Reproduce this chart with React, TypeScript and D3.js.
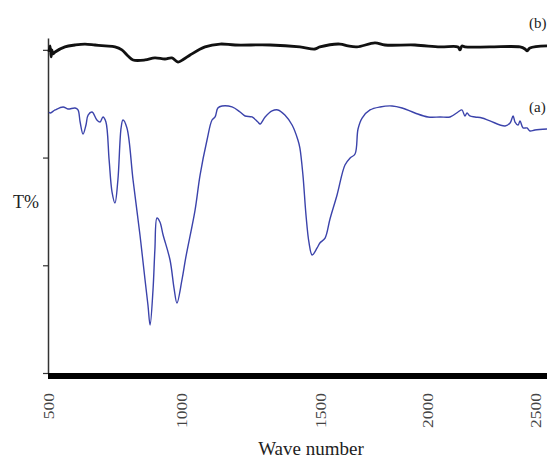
import React, { useEffect, useRef } from 'react'
import * as d3 from 'd3'

// wave number ticks, positioned on a piecewise axis as in the source figure
const xTicks = [500, 1000, 1500, 2000, 2500]
const yTicks = [0, 10, 20, 30]

// spectrum (a), blue
const waveA = [500, 504, 523, 553, 571, 598, 609, 617, 628, 639, 647, 662, 680, 692, 703, 714, 726, 737, 748, 759, 771, 778, 793, 816, 842, 861, 872, 880, 891, 898, 906, 917, 929, 955, 970, 981, 1000, 1014, 1047, 1065, 1090, 1108, 1119, 1129, 1144, 1180, 1209, 1227, 1252, 1273, 1281, 1299, 1324, 1345, 1370, 1396, 1417, 1424, 1435, 1446, 1457, 1468, 1486, 1496, 1519, 1542, 1575, 1612, 1636, 1659, 1673, 1692, 1729, 1776, 1832, 1879, 1939, 2000, 2056, 2102, 2139, 2157, 2171, 2181, 2194, 2218, 2250, 2287, 2357, 2380, 2394, 2403, 2417, 2426, 2440, 2458, 2472, 2495, 2551]
const transA = [24.23, 24.14, 24.42, 24.70, 24.51, 24.60, 24.42, 23.30, 22.19, 23.02, 23.95, 24.23, 23.49, 23.30, 23.77, 23.30, 19.78, 16.80, 15.78, 17.92, 22.75, 23.49, 22.75, 17.92, 12.81, 8.66, 6.31, 4.46, 7.71, 11.42, 14.39, 14.02, 12.81, 10.49, 7.89, 6.50, 8.66, 10.77, 15.13, 18.38, 21.63, 23.49, 23.77, 24.60, 24.79, 24.70, 24.23, 23.86, 23.77, 23.30, 23.12, 23.77, 24.33, 24.42, 23.95, 23.02, 21.63, 20.89, 18.38, 14.67, 12.07, 10.96, 11.61, 12.07, 12.53, 14.30, 16.53, 19.31, 19.96, 20.33, 22.65, 23.67, 24.42, 24.70, 24.79, 24.60, 24.14, 23.77, 23.77, 23.77, 24.23, 24.42, 23.86, 24.14, 23.86, 23.77, 23.67, 23.40, 22.93, 23.21, 23.86, 23.30, 23.02, 23.40, 22.75, 22.75, 22.47, 22.56, 22.65]

// spectrum (b), black
const waveB = [500, 504, 508, 511, 515, 523, 560, 598, 635, 673, 711, 748, 774, 797, 816, 861, 898, 936, 962, 985, 1007, 1029, 1083, 1137, 1191, 1317, 1424, 1478, 1496, 1589, 1626, 1668, 1752, 1799, 1939, 2056, 2139, 2148, 2157, 2171, 2287, 2426, 2449, 2458, 2472, 2551]
const transB = [29.80, 30.36, 29.34, 29.99, 29.62, 29.80, 30.27, 30.45, 30.54, 30.45, 30.36, 30.27, 29.99, 29.43, 29.06, 29.06, 29.25, 29.15, 29.25, 28.87, 29.15, 29.52, 30.27, 30.54, 30.45, 30.45, 30.27, 30.08, 30.27, 30.54, 30.36, 30.27, 30.64, 30.45, 30.45, 30.27, 30.27, 29.99, 30.36, 30.27, 30.27, 30.27, 30.08, 29.90, 30.17, 30.36]

const App = () => {
    const ref = useRef<SVGSVGElement>(null)

    useEffect(() => {
        drawChart()
    }, [])

    const drawChart = () => {
        const width = 547
        const height = 459
        const svg = d3.select(ref.current)
        svg.selectAll('*').remove()

        const x = d3.scaleLinear()
            .domain(xTicks)
            .range([49, 182, 321, 428, 536])
        const y = d3.scaleLinear()
            .domain([0, 31.1])
            .range([373, 38])

        svg.append('rect')
            .attr('width', width)
            .attr('height', height)
            .attr('fill', '#fff')

        // left axis
        const yAxis = d3.axisLeft(y)
            .tickValues(yTicks)
            .tickSize(5)
            .tickSizeOuter(0)
            .tickFormat(() => '')
        const gy = svg.append('g')
            .attr('transform', 'translate(48,0)')
            .call(yAxis)
        gy.select('.domain').attr('stroke', '#333').attr('stroke-width', 1.5)
        gy.selectAll('.tick line').attr('stroke', '#333').attr('stroke-width', 1.2)

        // thick bottom axis
        svg.append('line')
            .attr('x1', 48)
            .attr('x2', width)
            .attr('y1', 376)
            .attr('y2', 376)
            .attr('stroke', '#000')
            .attr('stroke-width', 6)

        svg.selectAll('.xlab')
            .data(xTicks)
            .enter()
            .append('text')
            .attr('class', 'xlab')
            .attr('transform', d => `translate(${x(d)},393) rotate(-90) scale(1.25,1)`)
            .attr('dy', '0.35em')
            .attr('text-anchor', 'end')
            .attr('font-family', 'Liberation Serif, serif')
            .attr('font-size', 14)
            .attr('fill', '#444')
            .text(d => d)

        const line = d3.line<[number, number]>()
            .x(d => x(d[0]))
            .y(d => y(d[1]))
            .curve(d3.curveCatmullRom.alpha(0.5))

        svg.append('path')
            .attr('d', line(waveB.map((w, i) => [w, transB[i]])))
            .attr('fill', 'none')
            .attr('stroke', '#111')
            .attr('stroke-width', 2.8)
            .attr('stroke-linejoin', 'round')

        svg.append('path')
            .attr('d', line(waveA.map((w, i) => [w, transA[i]])))
            .attr('fill', 'none')
            .attr('stroke', '#3b43ab')
            .attr('stroke-width', 1.4)
            .attr('stroke-linejoin', 'round')

        svg.append('text')
            .attr('x', 529)
            .attr('y', 28)
            .attr('font-family', 'Liberation Serif, serif')
            .attr('font-size', 15)
            .attr('fill', '#222')
            .text('(b)')
        svg.append('text')
            .attr('x', 529)
            .attr('y', 112)
            .attr('font-family', 'Liberation Serif, serif')
            .attr('font-size', 15)
            .attr('fill', '#222')
            .text('(a)')

        svg.append('text')
            .attr('x', 13)
            .attr('y', 208)
            .attr('font-family', 'Liberation Serif, serif')
            .attr('font-size', 18)
            .attr('fill', '#222')
            .text('T%')

        svg.append('text')
            .attr('x', 311)
            .attr('y', 455)
            .attr('text-anchor', 'middle')
            .attr('font-family', 'Liberation Serif, serif')
            .attr('font-size', 19)
            .attr('fill', '#222')
            .text('Wave number')
    }

    return (
        <svg ref={ref} width={547} height={459} style={{ position: 'absolute', left: 0, top: 0 }}></svg>
    )
}

export default App
